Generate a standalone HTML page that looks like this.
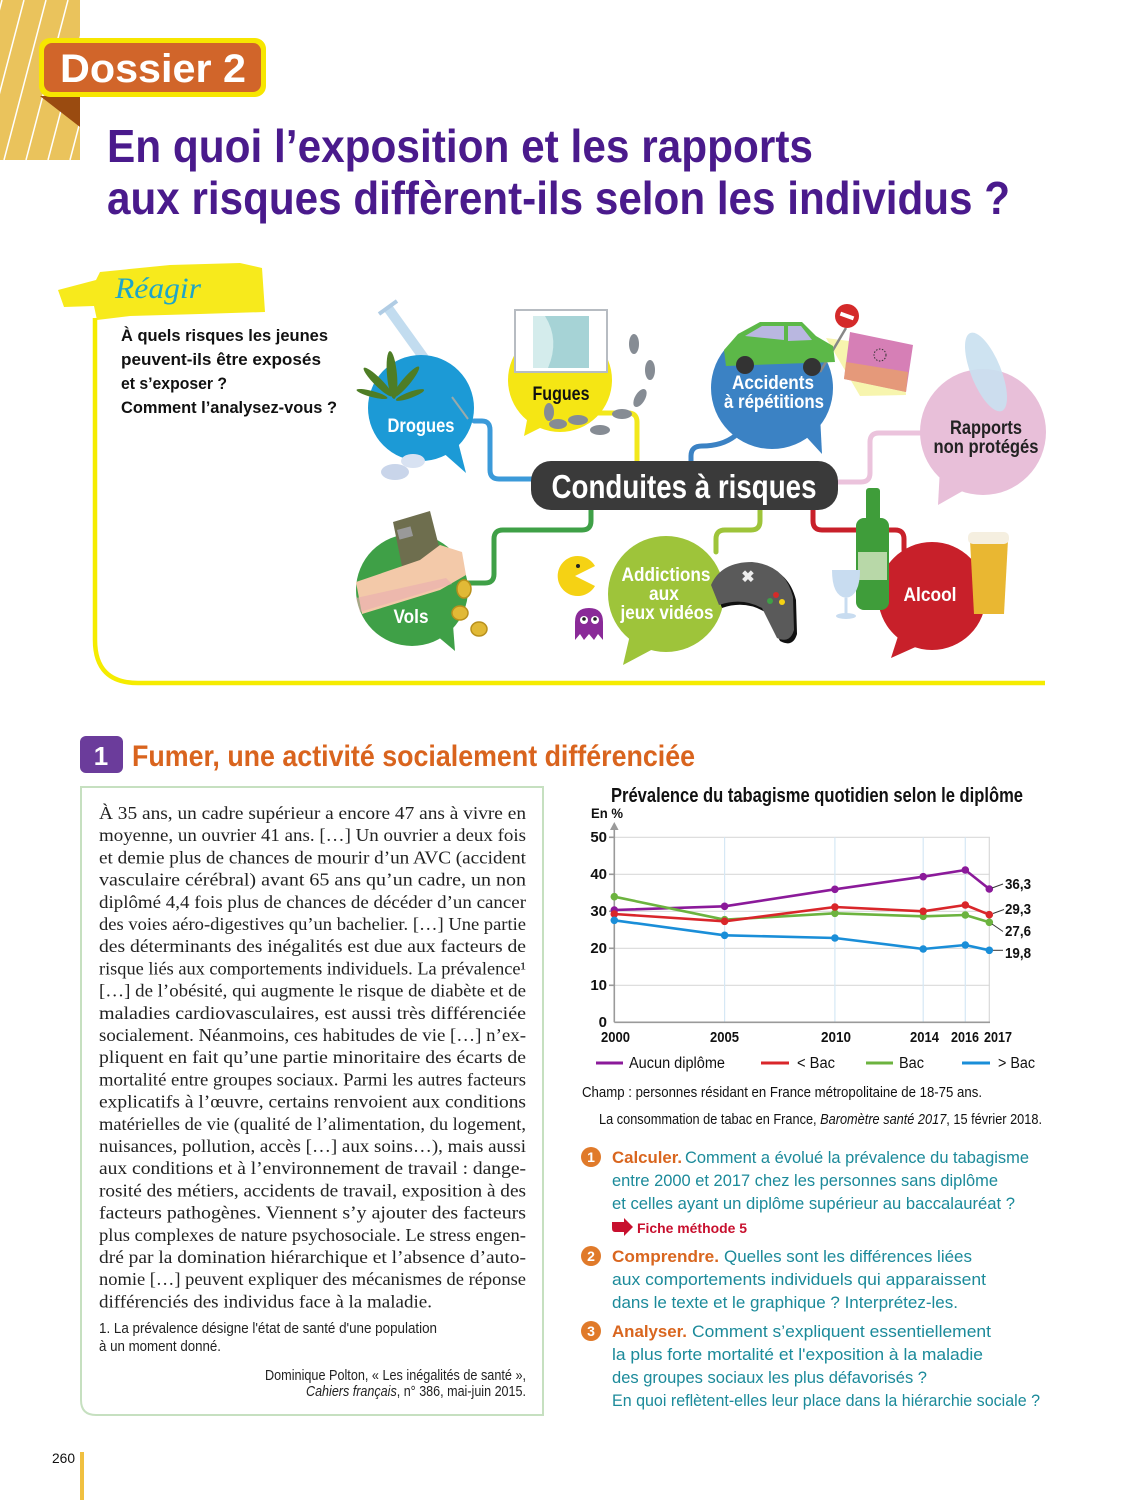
<!DOCTYPE html>
<html><head><meta charset="utf-8">
<style>
html,body{margin:0;padding:0;background:#fff;}
svg{display:block;}
.s{font-family:"Liberation Sans",sans-serif;}
.b{font-family:"Liberation Sans",sans-serif;font-weight:bold;}
.r{font-family:"Liberation Serif",serif;}
</style></head>
<body>
<svg width="1125" height="1500" viewBox="0 0 1125 1500" xmlns="http://www.w3.org/2000/svg">
<defs>
<clipPath id="band"><rect x="0" y="0" width="80" height="160"/></clipPath>
</defs>
<rect width="1125" height="1500" fill="#fff"/>

<!-- top-left striped band -->
<rect x="0" y="0" width="80" height="160" fill="#eac35c"/>
<g clip-path="url(#band)" stroke="#fff" stroke-width="1.5">
<line x1="-40" y1="160" x2="2" y2="0"/><line x1="-18" y1="160" x2="24" y2="0"/>
<line x1="4" y1="160" x2="46" y2="0"/><line x1="26" y1="160" x2="68" y2="0"/>
<line x1="48" y1="160" x2="90" y2="0"/><line x1="70" y1="160" x2="112" y2="0"/>
</g>
<!-- Dossier badge -->
<polygon points="40,96 80,96 80,127" fill="#9a4b10"/>
<rect x="39" y="38" width="227" height="59" rx="11" fill="#f7e600"/>
<rect x="44" y="43" width="217" height="49" rx="8" fill="#d1652a"/>
<text x="60" y="82" class="b" font-size="40" fill="#fff" textLength="186" lengthAdjust="spacingAndGlyphs">Dossier 2</text>

<!-- Title -->
<text x="107" y="162" class="b" font-size="46" fill="#4a1a8c" textLength="706" lengthAdjust="spacingAndGlyphs">En quoi l’exposition et les rapports</text>
<text x="107" y="214" class="b" font-size="46" fill="#4a1a8c" textLength="903" lengthAdjust="spacingAndGlyphs">aux risques diffèrent-ils selon les individus ?</text>

<!-- Réagir ribbon -->
<polygon points="58,290 96,280 100,272 170,265 240,263 262,268 265,312 200,314 130,316 97,320 94,306 64,307" fill="#f7ea1c"/>
<text x="115" y="298" class="r" font-style="italic" font-size="30" fill="#1ea5c8" textLength="86" lengthAdjust="spacingAndGlyphs">Réagir</text>
<path d="M95,318 V640 Q95,683 138,683 H1045" fill="none" stroke="#f5ec00" stroke-width="4.5"/>
<g class="b" font-size="17" fill="#111">
<text x="121" y="341" textLength="207" lengthAdjust="spacingAndGlyphs">À quels risques les jeunes</text>
<text x="121" y="365" textLength="200" lengthAdjust="spacingAndGlyphs">peuvent-ils être exposés</text>
<text x="121" y="389" textLength="106" lengthAdjust="spacingAndGlyphs">et s’exposer ?</text>
<text x="121" y="413" textLength="216" lengthAdjust="spacingAndGlyphs">Comment l’analysez-vous ?</text>
</g>

<!-- Mind map connectors -->
<g fill="none" stroke-width="5" stroke-linecap="round">
<path d="M474,421 H482 Q490,421 490,430 V470 Q490,479 499,479 H531" stroke="#3b9ad9"/>
<path d="M598,413 H628 Q637,413 637,422 V462" stroke="#f2e81c"/>
<path d="M735,436 Q722,446 702,446 Q691,446 691,456 V462" stroke="#3b82c4"/>
<path d="M924,433 H879 Q870,433 870,442 V473 Q870,482 861,482 H838" stroke="#ebc3dc"/>
<path d="M591,510 V521 Q591,530 582,530 H503 Q494,530 494,539 V574 Q494,583 485,583 H466" stroke="#3fa047"/>
<path d="M760,510 V521 Q760,530 751,530 H725 Q716,530 716,539 V552" stroke="#9ec43a"/>
<path d="M813,510 V521 Q813,530 822,530 H895 Q904,530 904,539 V550" stroke="#c8202a"/>
</g>

<!-- Drogues -->
<line x1="388" y1="308" x2="452" y2="397" stroke="#c2dcef" stroke-width="10"/>
<line x1="379" y1="314" x2="397" y2="301" stroke="#b0cce4" stroke-width="4"/>
<g fill="#1c9ad6">
<circle cx="421" cy="408" r="53"/>
<polygon points="440,450 466,473 455,430"/>
</g>
<line x1="452" y1="397" x2="468" y2="419" stroke="#9aa" stroke-width="2"/>
<g fill="#4e7d25">
<ellipse cx="392" cy="375" rx="5" ry="24" transform="rotate(-5 392 375)"/>
<ellipse cx="378" cy="382" rx="4" ry="20" transform="rotate(-45 378 382)"/>
<ellipse cx="406" cy="382" rx="4" ry="20" transform="rotate(40 406 382)"/>
<ellipse cx="372" cy="394" rx="3" ry="16" transform="rotate(-75 372 394)"/>
<ellipse cx="410" cy="395" rx="3" ry="15" transform="rotate(70 410 395)"/>
</g>
<ellipse cx="395" cy="472" rx="14" ry="8" fill="#c9d5ea"/>
<ellipse cx="413" cy="461" rx="12" ry="7" fill="#d8e2f2"/>
<text x="421" y="432" text-anchor="middle" class="b" font-size="19" fill="#fff" textLength="67" lengthAdjust="spacingAndGlyphs">Drogues</text>

<!-- Fugues -->
<g fill="#f5e614">
<circle cx="560" cy="380" r="52"/>
<polygon points="528,415 524,436 548,424"/>
</g>
<rect x="515" y="310" width="92" height="62" fill="#fff" stroke="#b7bcc2" stroke-width="2"/>
<rect x="533" y="316" width="56" height="52" fill="#a6d3d6"/>
<path d="M545,316 Q560,340 548,368 L533,368 L533,316Z" fill="#d4ecec"/>
<g fill="#868c94">
<ellipse cx="634" cy="344" rx="5" ry="10"/><ellipse cx="650" cy="370" rx="5" ry="10"/>
<ellipse cx="640" cy="398" rx="5" ry="10" transform="rotate(30 640 398)"/>
<ellipse cx="622" cy="414" rx="10" ry="5"/><ellipse cx="600" cy="430" rx="10" ry="5"/>
<ellipse cx="578" cy="420" rx="10" ry="5"/><ellipse cx="558" cy="424" rx="9" ry="5"/>
<ellipse cx="549" cy="412" rx="5" ry="9"/>
</g>
<text x="561" y="400" text-anchor="middle" class="b" font-size="19" fill="#111" textLength="57" lengthAdjust="spacingAndGlyphs">Fugues</text>

<!-- Accidents -->
<g fill="#3b82c4">
<circle cx="772" cy="388" r="61"/>
<polygon points="800,430 822,454 820,415"/>
</g>
<polygon points="826,338 902,348 906,395 860,396" fill="#f6f3a0" opacity="0.85"/>
<polygon points="850,332 913,345 906,392 844,379" fill="#d67fb6"/>
<polygon points="846,362 908,372 906,392 844,379" fill="#e8a06c" opacity="0.8"/>
<circle cx="880" cy="355" r="6" fill="none" stroke="#333" stroke-width="1" stroke-dasharray="1.5 1.5"/>
<line x1="846" y1="328" x2="820" y2="372" stroke="#888" stroke-width="2.5"/>
<circle cx="847" cy="316" r="12" fill="#d42a2a"/>
<rect x="840" y="314" width="14" height="4" fill="#fff" transform="rotate(20 847 316)"/>
<path d="M724,350 L738,334 L760,322 L802,322 L816,336 L833,346 L835,362 L726,366 Z" fill="#5cb848"/>
<path d="M745,336 L762,326 L784,326 L784,340 Z M788,326 L801,326 L812,340 L788,341 Z" fill="#b9b7e0"/>
<circle cx="745" cy="365" r="9" fill="#333"/><circle cx="812" cy="367" r="9" fill="#333"/>
<text x="773" y="389" text-anchor="middle" class="b" font-size="19" fill="#fff" textLength="82" lengthAdjust="spacingAndGlyphs">Accidents</text>
<text x="774" y="408" text-anchor="middle" class="b" font-size="19" fill="#fff" textLength="100" lengthAdjust="spacingAndGlyphs">à répétitions</text>

<!-- Rapports -->
<g fill="#e8bfd9">
<circle cx="983" cy="432" r="63"/>
<polygon points="940,468 938,505 968,488"/>
</g>
<ellipse cx="986" cy="372" rx="15" ry="42" fill="#c9e0ef" opacity="0.9" transform="rotate(-22 986 372)"/>
<text x="986" y="434" text-anchor="middle" class="b" font-size="19" fill="#222" textLength="72" lengthAdjust="spacingAndGlyphs">Rapports</text>
<text x="986" y="453" text-anchor="middle" class="b" font-size="19" fill="#222" textLength="105" lengthAdjust="spacingAndGlyphs">non protégés</text>

<!-- Center box -->
<rect x="531" y="461" width="307" height="49" rx="20" fill="#3a3a3a"/>
<text x="684" y="498" text-anchor="middle" class="b" font-size="33" fill="#fff" textLength="265" lengthAdjust="spacingAndGlyphs">Conduites à risques</text>

<!-- Vols -->
<g fill="#3fa047">
<circle cx="412" cy="590" r="56"/>
<polygon points="430,630 455,651 452,612"/>
</g>
<polygon points="393,522 430,511 446,574 406,586" fill="#6e6e4e"/>
<rect x="398" y="528" width="14" height="10" fill="#999" transform="rotate(-15 405 533)"/>
<path d="M356,582 L420,560 L440,545 L462,552 L466,575 L440,590 L362,614 Z" fill="#f3c9a9"/>
<path d="M356,598 L446,578 L452,584 L360,612Z" fill="#eaaeb0" opacity="0.6"/>
<g fill="#e1b936" stroke="#b8901c" stroke-width="1.5">
<ellipse cx="464" cy="589" rx="7" ry="9"/><ellipse cx="460" cy="613" rx="8" ry="7"/><ellipse cx="479" cy="629" rx="8" ry="7"/>
</g>
<text x="411" y="623" text-anchor="middle" class="b" font-size="19" fill="#fff" textLength="35" lengthAdjust="spacingAndGlyphs">Vols</text>

<!-- Addictions -->
<g fill="#9ec43a">
<circle cx="666" cy="594" r="58"/>
<polygon points="630,635 623,665 655,648"/>
</g>
<path d="M575,576 L595,566 A20,20 0 1,0 595,586 Z" fill="#f5d214"/>
<circle cx="578" cy="566" r="2" fill="#222"/>
<path d="M575,640 V622 Q575,608 589,608 Q603,608 603,622 V640 L598,634 L594,640 L589,634 L584,640 L580,634 Z" fill="#8a2a98"/>
<circle cx="584" cy="620" r="4" fill="#fff"/><circle cx="595" cy="620" r="4" fill="#fff"/>
<circle cx="584" cy="619" r="1.8" fill="#222"/><circle cx="595" cy="619" r="1.8" fill="#222"/>
<path d="M714,588 Q724,565 755,565 Q788,568 796,600 L797,634 Q793,648 780,641 L765,612 Q745,600 722,608 Z" fill="#111"/>
<path d="M711,585 Q721,562 752,562 Q785,565 793,597 L794,630 Q790,644 777,638 L762,608 Q742,597 719,605 Z" fill="#5a5a5a"/>
<text x="748" y="582" text-anchor="middle" class="b" font-size="16" fill="#eee">✖</text>
<circle cx="776" cy="595" r="3" fill="#d42a2a"/><circle cx="770" cy="601" r="3" fill="#3fa047"/><circle cx="782" cy="602" r="3" fill="#f5d214"/>
<text x="666" y="581" text-anchor="middle" class="b" font-size="19" fill="#fff" textLength="89" lengthAdjust="spacingAndGlyphs">Addictions</text>
<text x="664" y="600" text-anchor="middle" class="b" font-size="19" fill="#fff" textLength="30" lengthAdjust="spacingAndGlyphs">aux</text>
<text x="667" y="619" text-anchor="middle" class="b" font-size="19" fill="#fff" textLength="93" lengthAdjust="spacingAndGlyphs">jeux vidéos</text>

<!-- Alcool -->
<g fill="#c8202a">
<circle cx="932" cy="596" r="54"/>
<polygon points="900,630 891,658 920,645"/>
</g>
<rect x="866" y="488" width="14" height="36" rx="3" fill="#3f9d3a"/>
<rect x="856" y="518" width="33" height="92" rx="8" fill="#3f9d3a"/>
<rect x="858" y="552" width="29" height="28" fill="#b8d8a8"/>
<path d="M832,570 H860 Q860,596 846,598 Q832,596 832,570Z" fill="#c8dcf0"/>
<line x1="846" y1="598" x2="846" y2="615" stroke="#c8dcf0" stroke-width="3"/>
<ellipse cx="846" cy="616" rx="10" ry="3" fill="#c8dcf0"/>
<path d="M970,540 H1008 L1004,614 H974 Z" fill="#e9b732"/>
<rect x="968" y="532" width="41" height="12" rx="5" fill="#f5efe0"/>
<text x="930" y="601" text-anchor="middle" class="b" font-size="19" fill="#fff" textLength="53" lengthAdjust="spacingAndGlyphs">Alcool</text>

<!-- Section 1 header -->
<rect x="80" y="736" width="43" height="37" rx="6" fill="#6b3c9b"/>
<text x="101" y="765" text-anchor="middle" class="b" font-size="26" fill="#fff">1</text>
<text x="132" y="766" class="b" font-size="30" fill="#d9641e" textLength="563" lengthAdjust="spacingAndGlyphs">Fumer, une activité socialement différenciée</text>

<!-- Text box -->
<path d="M81,787 H543 V1415 H96 Q81,1415 81,1400 Z" fill="none" stroke="#c6e0c0" stroke-width="2"/>
<g class="r" font-size="17.5" fill="#222">
<text x="99" y="819" textLength="427" lengthAdjust="spacingAndGlyphs">À 35 ans, un cadre supérieur a encore 47 ans à vivre en</text>
<text x="99" y="841.2" textLength="427" lengthAdjust="spacingAndGlyphs">moyenne, un ouvrier 41 ans. […] Un ouvrier a deux fois</text>
<text x="99" y="863.4" textLength="427" lengthAdjust="spacingAndGlyphs">et demie plus de chances de mourir d’un AVC (accident</text>
<text x="99" y="885.6" textLength="427" lengthAdjust="spacingAndGlyphs">vasculaire cérébral) avant 65 ans qu’un cadre, un non</text>
<text x="99" y="907.8" textLength="427" lengthAdjust="spacingAndGlyphs">diplômé 4,4 fois plus de chances de décéder d’un cancer</text>
<text x="99" y="930" textLength="427" lengthAdjust="spacingAndGlyphs">des voies aéro-digestives qu’un bachelier. […] Une partie</text>
<text x="99" y="952.2" textLength="427" lengthAdjust="spacingAndGlyphs">des déterminants des inégalités est due aux facteurs de</text>
<text x="99" y="974.4" textLength="427" lengthAdjust="spacingAndGlyphs">risque liés aux comportements individuels. La prévalence¹</text>
<text x="99" y="996.6" textLength="427" lengthAdjust="spacingAndGlyphs">[…] de l’obésité, qui augmente le risque de diabète et de</text>
<text x="99" y="1018.8" textLength="427" lengthAdjust="spacingAndGlyphs">maladies cardiovasculaires, est aussi très différenciée</text>
<text x="99" y="1041" textLength="427" lengthAdjust="spacingAndGlyphs">socialement. Néanmoins, ces habitudes de vie […] n’ex-</text>
<text x="99" y="1063.2" textLength="427" lengthAdjust="spacingAndGlyphs">pliquent en fait qu’une partie minoritaire des écarts de</text>
<text x="99" y="1085.4" textLength="427" lengthAdjust="spacingAndGlyphs">mortalité entre groupes sociaux. Parmi les autres facteurs</text>
<text x="99" y="1107.6" textLength="427" lengthAdjust="spacingAndGlyphs">explicatifs à l’œuvre, certains renvoient aux conditions</text>
<text x="99" y="1129.8" textLength="427" lengthAdjust="spacingAndGlyphs">matérielles de vie (qualité de l’alimentation, du logement,</text>
<text x="99" y="1152" textLength="427" lengthAdjust="spacingAndGlyphs">nuisances, pollution, accès […] aux soins…), mais aussi</text>
<text x="99" y="1174.2" textLength="427" lengthAdjust="spacingAndGlyphs">aux conditions et à l’environnement de travail : dange-</text>
<text x="99" y="1196.4" textLength="427" lengthAdjust="spacingAndGlyphs">rosité des métiers, accidents de travail, exposition à des</text>
<text x="99" y="1218.6" textLength="427" lengthAdjust="spacingAndGlyphs">facteurs pathogènes. Viennent s’y ajouter des facteurs</text>
<text x="99" y="1240.8" textLength="427" lengthAdjust="spacingAndGlyphs">plus complexes de nature psychosociale. Le stress engen-</text>
<text x="99" y="1263" textLength="427" lengthAdjust="spacingAndGlyphs">dré par la domination hiérarchique et l’absence d’auto-</text>
<text x="99" y="1285.2" textLength="427" lengthAdjust="spacingAndGlyphs">nomie […] peuvent expliquer des mécanismes de réponse</text>
<text x="99" y="1307.4" textLength="333" lengthAdjust="spacingAndGlyphs">différenciés des individus face à la maladie.</text>
</g>
<g class="s" font-size="14.5" fill="#222">
<text x="99" y="1333" textLength="338" lengthAdjust="spacingAndGlyphs">1. La prévalence désigne l'état de santé d'une population</text>
<text x="99" y="1351" textLength="122" lengthAdjust="spacingAndGlyphs">à un moment donné.</text>
<text x="526" y="1380" text-anchor="end" textLength="261" lengthAdjust="spacingAndGlyphs">Dominique Polton, « Les inégalités de santé »,</text>
<text x="526" y="1396" text-anchor="end" textLength="220" lengthAdjust="spacingAndGlyphs"><tspan font-style="italic">Cahiers français</tspan>, n° 386, mai-juin 2015.</text>
</g>

<!-- Chart -->
<text x="611" y="802" class="b" font-size="20" fill="#111" textLength="412" lengthAdjust="spacingAndGlyphs">Prévalence du tabagisme quotidien selon le diplôme</text>
<text x="591" y="818" class="b" font-size="14" fill="#111" textLength="32" lengthAdjust="spacingAndGlyphs">En %</text>
<g stroke="#d9d9d9" stroke-width="1.2">
<line x1="615" y1="837.3" x2="990" y2="837.3"/>
<line x1="615" y1="874.3" x2="990" y2="874.3"/>
<line x1="615" y1="911.3" x2="990" y2="911.3"/>
<line x1="615" y1="948.3" x2="990" y2="948.3"/>
<line x1="615" y1="985.3" x2="990" y2="985.3"/>
<line x1="989.3" y1="837.3" x2="989.3" y2="1022.3"/>
</g>
<g stroke="#d6e8f5" stroke-width="1.2">
<line x1="724.6" y1="837.3" x2="724.6" y2="1022.3"/>
<line x1="834.9" y1="837.3" x2="834.9" y2="1022.3"/>
<line x1="923.2" y1="837.3" x2="923.2" y2="1022.3"/>
<line x1="965.3" y1="837.3" x2="965.3" y2="1022.3"/>
</g>
<g stroke="#9a9a9a" stroke-width="1.6">
<line x1="614.3" y1="828" x2="614.3" y2="1022.3"/>
<line x1="614.3" y1="1022.3" x2="990" y2="1022.3"/>
<line x1="609" y1="837.3" x2="614.3" y2="837.3"/>
<line x1="609" y1="874.3" x2="614.3" y2="874.3"/>
<line x1="609" y1="911.3" x2="614.3" y2="911.3"/>
<line x1="609" y1="948.3" x2="614.3" y2="948.3"/>
<line x1="609" y1="985.3" x2="614.3" y2="985.3"/>
</g>
<polygon points="614.3,822 610,830 618.6,830" fill="#9a9a9a"/>
<g class="b" font-size="15" fill="#111" text-anchor="end">
<text x="607" y="842">50</text><text x="607" y="879">40</text><text x="607" y="916">30</text>
<text x="607" y="953">20</text><text x="607" y="990">10</text><text x="607" y="1027">0</text>
</g>
<g class="b" font-size="15" fill="#111">
<text x="601" y="1042" textLength="29" lengthAdjust="spacingAndGlyphs">2000</text>
<text x="710" y="1042" textLength="29" lengthAdjust="spacingAndGlyphs">2005</text>
<text x="821" y="1042" textLength="30" lengthAdjust="spacingAndGlyphs">2010</text>
<text x="910" y="1042" textLength="29" lengthAdjust="spacingAndGlyphs">2014</text>
<text x="951" y="1042" textLength="28" lengthAdjust="spacingAndGlyphs">2016</text>
<text x="984" y="1042" textLength="28" lengthAdjust="spacingAndGlyphs">2017</text>
</g>
<!-- series -->
<g fill="none" stroke-width="2.6" stroke-linejoin="round">
<polyline stroke="#8b1a9a" points="614.3,910 724.6,906.3 834.9,889.3 923.2,876.7 965.3,870 989.3,889"/>
<polyline stroke="#6cb33f" points="614.3,896.7 724.6,919.7 834.9,913.3 923.2,916.3 965.3,915 989.3,922.3"/>
<polyline stroke="#d9262a" points="614.3,914 724.6,921.3 834.9,907 923.2,911.3 965.3,905 989.3,914.7"/>
<polyline stroke="#1a8ed8" points="614.3,920.3 724.6,935.3 834.9,938 923.2,949 965.3,945 989.3,950.3"/>
</g>
<g fill="#8b1a9a"><circle cx="614.3" cy="910" r="3.8"/><circle cx="724.6" cy="906.3" r="3.8"/><circle cx="834.9" cy="889.3" r="3.8"/><circle cx="923.2" cy="876.7" r="3.8"/><circle cx="965.3" cy="870" r="3.8"/><circle cx="989.3" cy="889" r="3.8"/></g>
<g fill="#6cb33f"><circle cx="614.3" cy="896.7" r="3.8"/><circle cx="724.6" cy="919.7" r="3.8"/><circle cx="834.9" cy="913.3" r="3.8"/><circle cx="923.2" cy="916.3" r="3.8"/><circle cx="965.3" cy="915" r="3.8"/><circle cx="989.3" cy="922.3" r="3.8"/></g>
<g fill="#d9262a"><circle cx="614.3" cy="914" r="3.8"/><circle cx="724.6" cy="921.3" r="3.8"/><circle cx="834.9" cy="907" r="3.8"/><circle cx="923.2" cy="911.3" r="3.8"/><circle cx="965.3" cy="905" r="3.8"/><circle cx="989.3" cy="914.7" r="3.8"/></g>
<g fill="#1a8ed8"><circle cx="614.3" cy="920.3" r="3.8"/><circle cx="724.6" cy="935.3" r="3.8"/><circle cx="834.9" cy="938" r="3.8"/><circle cx="923.2" cy="949" r="3.8"/><circle cx="965.3" cy="945" r="3.8"/><circle cx="989.3" cy="950.3" r="3.8"/></g>
<g stroke="#333" stroke-width="1">
<line x1="992" y1="888" x2="1003" y2="884"/>
<line x1="993" y1="913.5" x2="1004" y2="909.5"/>
<line x1="992" y1="924" x2="1003" y2="931.5"/>
<line x1="993" y1="950.3" x2="1003" y2="950.3"/>
</g>
<g class="b" font-size="15" fill="#111">
<text x="1005" y="889" textLength="26" lengthAdjust="spacingAndGlyphs">36,3</text>
<text x="1005" y="914" textLength="26" lengthAdjust="spacingAndGlyphs">29,3</text>
<text x="1005" y="936" textLength="26" lengthAdjust="spacingAndGlyphs">27,6</text>
<text x="1005" y="958" textLength="26" lengthAdjust="spacingAndGlyphs">19,8</text>
</g>
<!-- legend -->
<g stroke-width="3">
<line x1="596" y1="1063" x2="623" y2="1063" stroke="#8b1a9a"/>
<line x1="761" y1="1063" x2="789" y2="1063" stroke="#d9262a"/>
<line x1="866" y1="1063" x2="893" y2="1063" stroke="#6cb33f"/>
<line x1="962" y1="1063" x2="990" y2="1063" stroke="#1a8ed8"/>
</g>
<g class="s" font-size="15.5" fill="#111">
<text x="629" y="1068" textLength="96" lengthAdjust="spacingAndGlyphs">Aucun diplôme</text>
<text x="797" y="1068" textLength="38" lengthAdjust="spacingAndGlyphs">&lt; Bac</text>
<text x="899" y="1068" textLength="25" lengthAdjust="spacingAndGlyphs">Bac</text>
<text x="998" y="1068" textLength="37" lengthAdjust="spacingAndGlyphs">&gt; Bac</text>
<text x="582" y="1097" font-size="15" textLength="400" lengthAdjust="spacingAndGlyphs">Champ : personnes résidant en France métropolitaine de 18-75 ans.</text>
<text x="599" y="1124" font-size="15" textLength="443" lengthAdjust="spacingAndGlyphs">La consommation de tabac en France, <tspan font-style="italic">Baromètre santé 2017</tspan>, 15 février 2018.</text>
</g>

<!-- Questions -->
<g fill="#e07a2a">
<circle cx="591" cy="1157" r="10"/><circle cx="591" cy="1256" r="10"/><circle cx="591" cy="1331" r="10"/>
</g>
<g class="b" font-size="14" fill="#fff" text-anchor="middle">
<text x="591" y="1162">1</text><text x="591" y="1261">2</text><text x="591" y="1336">3</text>
</g>
<g class="b" font-size="17" fill="#d9661f">
<text x="612" y="1163" textLength="70" lengthAdjust="spacingAndGlyphs">Calculer.</text>
<text x="612" y="1262" textLength="107" lengthAdjust="spacingAndGlyphs">Comprendre.</text>
<text x="612" y="1337" textLength="75" lengthAdjust="spacingAndGlyphs">Analyser.</text>
</g>
<g class="s" font-size="17" fill="#1b8a9a">
<text x="685" y="1163" textLength="344" lengthAdjust="spacingAndGlyphs">Comment a évolué la prévalence du tabagisme</text>
<text x="612" y="1186" textLength="386" lengthAdjust="spacingAndGlyphs">entre 2000 et 2017 chez les personnes sans diplôme</text>
<text x="612" y="1209" textLength="403" lengthAdjust="spacingAndGlyphs">et celles ayant un diplôme supérieur au baccalauréat ?</text>
<text x="724" y="1262" textLength="248" lengthAdjust="spacingAndGlyphs">Quelles sont les différences liées</text>
<text x="612" y="1285" textLength="374" lengthAdjust="spacingAndGlyphs">aux comportements individuels qui apparaissent</text>
<text x="612" y="1308" textLength="346" lengthAdjust="spacingAndGlyphs">dans le texte et le graphique ? Interprétez-les.</text>
<text x="692" y="1337" textLength="299" lengthAdjust="spacingAndGlyphs">Comment s’expliquent essentiellement</text>
<text x="612" y="1360" textLength="371" lengthAdjust="spacingAndGlyphs">la plus forte mortalité et l'exposition à la maladie</text>
<text x="612" y="1383" textLength="315" lengthAdjust="spacingAndGlyphs">des groupes sociaux les plus défavorisés ?</text>
<text x="612" y="1406" textLength="428" lengthAdjust="spacingAndGlyphs">En quoi reflètent-elles leur place dans la hiérarchie sociale ?</text>
</g>
<path d="M612,1222 H624 V1218 L633,1227 L624,1236 V1232 H615 Q612,1232 612,1228 Z" fill="#c8102e"/>
<text x="637" y="1233" class="b" font-size="14" fill="#c8102e" textLength="110" lengthAdjust="spacingAndGlyphs">Fiche méthode 5</text>

<!-- page number -->
<text x="52" y="1463" class="s" font-size="14" fill="#111" textLength="23" lengthAdjust="spacingAndGlyphs">260</text>
<rect x="80" y="1452" width="4" height="48" fill="#f0c040"/>
</svg>
</body></html>
